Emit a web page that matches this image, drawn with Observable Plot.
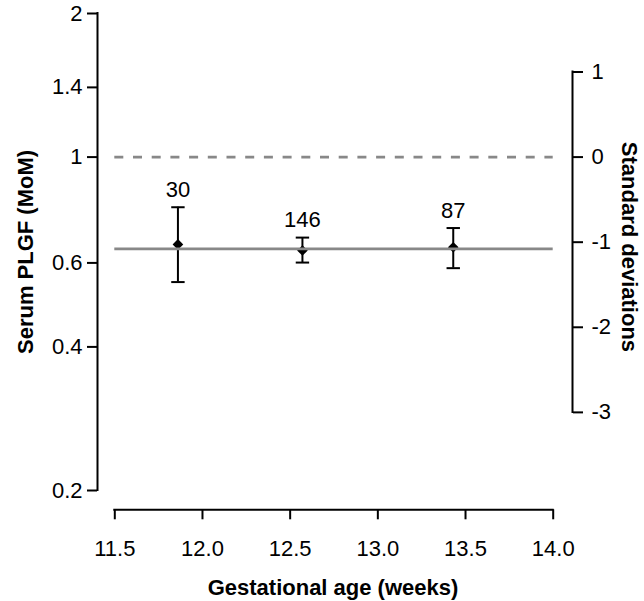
<!DOCTYPE html>
<html>
<head>
<meta charset="utf-8">
<script src="https://cdn.jsdelivr.net/npm/d3@7"></script>
<script src="https://cdn.jsdelivr.net/npm/@observablehq/plot@0.6"></script>
<style>
  html, body { margin: 0; padding: 0; background: #fff; }
  svg { display: block; }
</style>
</head>
<body>
<div id="chart"></div>
<script>
// ---- data ----
const weeks  = [11.86, 12.57, 13.43];        // gestational age (weeks)
const mom    = [0.656, 0.637, 0.647];        // median PLGF MoM
const lower  = [0.547, 0.601, 0.585];        // lower CI
const upper  = [0.785, 0.678, 0.710];        // upper CI
const counts = [30, 146, 87];                // n per group

const xTicks  = [11.5, 12.0, 12.5, 13.0, 13.5, 14.0];
const yTicks  = [0.2, 0.4, 0.6, 1, 1.4, 2];
const sdTicks = [1, 0, -1, -2, -3];
const sdLog   = 0.1784;                      // log10(MoM) per standard deviation
const referenceMoM = [1];                    // dashed line
const fittedMoM    = [0.642];                // solid grey line
const xDomain = [11.5, 14];
const yDomain = [0.2, 2];

const table = weeks.map((w, i) => ({week: w, mom: mom[i], lo: lower[i], hi: upper[i], n: counts[i]}));

const capSymbol = {
  draw(context, size) {
    const r = Math.sqrt(size / Math.PI);
    context.moveTo(-r, 0);
    context.lineTo(r, 0);
  }
};

const grey = "#888888";
const tickFont = 22;
const titleFont = 22;

const chart = Plot.plot({
  width: 644,
  height: 601,
  marginLeft: 97,
  marginRight: 72,
  marginTop: 13,
  marginBottom: 91.7,
  style: {fontFamily: "'Liberation Sans', Arial, Helvetica, sans-serif", fontSize: tickFont + "px", background: "#fff", color: "#000"},
  x: {type: "linear", domain: xDomain, range: [114.3, 552.7]},
  y: {type: "log", domain: yDomain, range: [490, 13]},
  marks: [
    // axis lines (R style, offset from the data region)
    Plot.ruleX([xDomain[0]], {x: d => d, y1: yDomain[0], y2: yDomain[1], dx: -17.3, stroke: "#000", strokeWidth: 2, strokeLinecap: "square"}),
    Plot.ruleX([xDomain[1]], {x: d => d, y1: 10 ** (sdTicks[0] * sdLog), y2: 10 ** (sdTicks[sdTicks.length - 1] * sdLog), dx: 19.3, stroke: "#000", strokeWidth: 2, strokeLinecap: "square"}),
    Plot.ruleY([yDomain[0]], {y: d => d, x1: xDomain[0], x2: xDomain[1], dy: 19.3, stroke: "#000", strokeWidth: 2, strokeLinecap: "square"}),

    // reference (dashed) line at MoM 1
    Plot.ruleY(referenceMoM, {y: d => d, x1: xDomain[0], x2: xDomain[1], stroke: grey, strokeWidth: 2.8, strokeDasharray: "9,9.7"}),

    // error bars
    Plot.ruleX(table, {x: "week", y1: "lo", y2: "hi", stroke: "#000", strokeWidth: 2}),
    Plot.dot(table, {x: "week", y: "hi", symbol: capSymbol, r: 6.7, stroke: "#000", strokeWidth: 2, fill: "none"}),
    Plot.dot(table, {x: "week", y: "lo", symbol: capSymbol, r: 6.7, stroke: "#000", strokeWidth: 2, fill: "none"}),
    Plot.dot(table, {x: "week", y: "mom", symbol: "diamond2", r: 4.8, fill: "#000", stroke: "none"}),

    // fitted grey line
    Plot.ruleY(fittedMoM, {y: d => d, x1: xDomain[0], x2: xDomain[1], stroke: grey, strokeWidth: 2.8}),

    // counts
    Plot.text(table, {x: "week", y: "hi", text: d => String(d.n), dy: -17.5, lineAnchor: "middle", fontSize: tickFont, fill: "#000"}),

    // axes
    Plot.axisY({anchor: "left", ticks: yTicks, tickFormat: d => String(d), tickSize: 10, tickPadding: 5, label: null, fontSize: tickFont, strokeWidth: 2}),
    Plot.axisY({anchor: "right", ticks: sdTicks.map(s => 10 ** (s * sdLog)), tickFormat: d => String(Math.round(Math.log10(d) / sdLog)), tickSize: 10, tickPadding: 9, label: null, fontSize: tickFont, strokeWidth: 2}),
    Plot.axisX({anchor: "bottom", ticks: xTicks, tickFormat: d3.format(".1f"), tickSize: 10, tickPadding: 21, label: null, fontSize: tickFont, strokeWidth: 2}),

    // axis titles
    Plot.text(["Serum PLGF (MoM)"], {frameAnchor: "left", text: d => d, rotate: -90, dx: -71.5, dy: -9.7, lineAnchor: "middle", textAnchor: "middle", fontSize: titleFont, fontWeight: "bold", fill: "#000"}),
    Plot.text(["Gestational age (weeks)"], {frameAnchor: "bottom", text: d => d, dx: -2, dy: 77.7, lineAnchor: "middle", textAnchor: "middle", fontSize: titleFont, fontWeight: "bold", fill: "#000"}),
    Plot.text(["Standard deviations"], {frameAnchor: "right", text: d => d, rotate: 90, dx: 57, dy: -14.7, lineAnchor: "middle", textAnchor: "middle", fontSize: titleFont, fontWeight: "bold", fill: "#000"})
  ]
});

document.getElementById("chart").appendChild(chart);
</script>
</body>
</html>
